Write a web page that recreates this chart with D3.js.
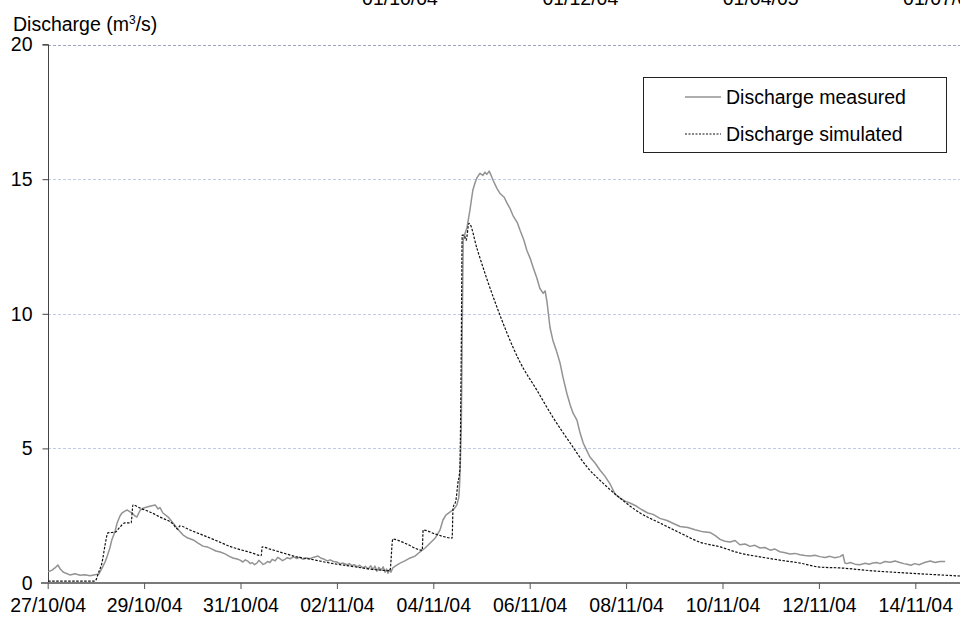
<!DOCTYPE html>
<html>
<head>
<meta charset="utf-8">
<script src="https://cdn.jsdelivr.net/npm/d3@7"></script>
<style>
  html, body { margin: 0; padding: 0; background: #fff; }
  svg { display: block; font-family: "Liberation Sans", Arial, sans-serif; }
</style>
</head>
<body>
<svg id="chart" width="960" height="620"></svg>
<script>
// ---- data (days since 27/10/04 00:00, discharge m3/s) ----
const measuredDays = [0.01,0.09,0.17,0.21,0.26,0.32,0.38,0.46,0.57,0.67,0.77,0.88,0.98,1.06,1.13,1.19,1.23,1.29,1.33,1.40,1.44,1.50,1.54,1.60,1.65,1.71,1.75,1.81,1.85,1.92,1.98,2.06,2.14,2.23,2.29,2.33,2.39,2.50,2.60,2.70,2.81,2.91,3.02,3.12,3.22,3.31,3.41,3.49,3.58,3.68,3.76,3.84,3.93,3.99,4.05,4.10,4.16,4.20,4.24,4.29,4.34,4.38,4.43,4.47,4.51,4.56,4.61,4.66,4.72,4.77,4.82,4.87,4.92,4.97,5.03,5.10,5.17,5.23,5.30,5.37,5.44,5.52,5.61,5.67,5.73,5.80,5.86,5.93,6.00,6.06,6.13,6.21,6.26,6.31,6.36,6.42,6.47,6.54,6.59,6.65,6.70,6.75,6.79,6.83,6.87,6.92,6.96,7.00,7.03,7.06,7.09,7.12,7.16,7.21,7.31,7.41,7.52,7.62,7.72,7.83,7.93,8.04,8.14,8.20,8.26,8.35,8.43,8.49,8.53,8.55,8.58,8.60,8.62,8.66,8.70,8.76,8.82,8.87,8.91,8.97,9.03,9.07,9.11,9.16,9.20,9.24,9.32,9.38,9.47,9.53,9.59,9.65,9.74,9.80,9.88,9.94,10.01,10.07,10.15,10.21,10.28,10.32,10.36,10.42,10.48,10.55,10.63,10.69,10.77,10.84,10.90,10.98,11.04,11.11,11.19,11.25,11.36,11.46,11.56,11.67,11.77,11.87,11.98,12.08,12.21,12.33,12.45,12.56,12.70,12.85,12.97,13.12,13.28,13.43,13.60,13.74,13.85,13.95,14.05,14.16,14.26,14.36,14.47,14.57,14.67,14.78,14.88,14.99,15.09,15.19,15.30,15.40,15.50,15.61,15.71,15.82,15.92,16.02,16.13,16.23,16.33,16.44,16.50,16.54,16.58,16.65,16.75,16.85,16.96,17.04,17.12,17.20,17.27,17.37,17.48,17.58,17.68,17.76,17.83,17.91,17.99,18.08,18.16,18.23,18.31,18.41,18.51,18.62,18.72,18.82,18.93];
const measuredQ = [0.42,0.48,0.59,0.67,0.52,0.41,0.36,0.30,0.34,0.29,0.31,0.27,0.31,0.33,0.56,0.78,0.97,1.30,1.60,1.93,2.23,2.49,2.60,2.67,2.71,2.64,2.60,2.49,2.45,2.71,2.78,2.82,2.86,2.90,2.75,2.80,2.60,2.45,2.23,2.00,1.78,1.67,1.60,1.48,1.37,1.34,1.26,1.19,1.15,1.08,1.00,0.93,0.89,0.85,0.78,0.86,0.80,0.72,0.76,0.68,0.74,0.84,0.76,0.69,0.72,0.80,0.76,0.88,0.82,0.95,0.90,0.83,0.88,0.94,0.90,0.97,0.91,0.96,0.88,0.93,0.90,0.96,1.00,0.92,0.89,0.82,0.86,0.80,0.78,0.72,0.74,0.68,0.72,0.64,0.68,0.60,0.66,0.56,0.62,0.52,0.64,0.50,0.63,0.44,0.58,0.48,0.60,0.40,0.52,0.36,0.49,0.40,0.56,0.63,0.74,0.82,0.93,1.00,1.15,1.30,1.48,1.67,1.97,2.34,2.52,2.64,2.75,2.90,3.19,3.82,5.68,9.39,12.73,12.99,13.21,13.85,14.59,14.89,15.07,15.22,15.14,15.26,15.18,15.30,15.14,14.96,14.66,14.48,14.33,14.11,13.92,13.66,13.40,13.10,12.73,12.36,12.06,11.73,11.32,10.95,10.76,10.85,10.43,9.50,9.02,8.65,8.17,7.65,7.05,6.61,6.31,6.05,5.61,5.20,4.90,4.68,4.45,4.19,3.97,3.67,3.30,3.16,3.04,2.97,2.86,2.72,2.60,2.55,2.40,2.32,2.22,2.10,2.06,1.98,1.90,1.88,1.76,1.62,1.55,1.52,1.58,1.42,1.45,1.36,1.40,1.30,1.32,1.22,1.26,1.16,1.12,1.08,1.10,1.05,1.02,1.00,1.03,0.98,0.95,0.99,0.94,0.98,1.05,0.74,0.72,0.76,0.70,0.68,0.73,0.70,0.74,0.76,0.72,0.80,0.77,0.82,0.76,0.72,0.70,0.66,0.72,0.68,0.74,0.78,0.82,0.76,0.80,0.80];

const simulatedDays = [0.01,0.98,1.06,1.13,1.19,1.25,1.40,1.50,1.60,1.73,1.77,1.92,2.12,2.33,2.60,2.70,2.74,2.95,3.16,3.37,3.57,3.78,3.99,4.20,4.43,4.45,4.61,4.82,5.17,5.44,5.86,6.27,6.69,7.10,7.16,7.41,7.77,7.79,8.04,8.39,8.41,8.47,8.51,8.55,8.58,8.60,8.64,8.68,8.74,8.91,9.11,9.32,9.53,9.80,10.15,10.48,10.84,11.19,11.52,11.87,12.29,12.70,13.12,13.53,13.95,14.36,14.78,15.19,15.61,16.02,16.44,17.12,17.83,18.51,18.93];
const simulatedQ = [0.07,0.07,0.41,0.78,1.41,1.86,1.89,2.08,2.23,2.23,2.90,2.78,2.64,2.45,2.19,2.00,2.12,1.97,1.82,1.67,1.52,1.36,1.24,1.14,1.02,1.34,1.26,1.15,0.97,0.89,0.74,0.63,0.52,0.46,1.63,1.48,1.22,1.97,1.82,1.67,2.78,3.08,3.71,4.19,8.65,12.92,12.92,12.73,13.36,12.40,11.30,10.25,9.28,8.20,7.16,6.16,5.20,4.31,3.71,3.16,2.60,2.23,1.86,1.52,1.34,1.11,0.97,0.85,0.74,0.59,0.56,0.45,0.37,0.30,0.26];

const xTickLabels = ["27/10/04","29/10/04","31/10/04","02/11/04","04/11/04","06/11/04","08/11/04","10/11/04","12/11/04","14/11/04"];
const yTicks = [0, 5, 10, 15, 20];
const topLabels = ["01/10/04", "01/12/04", "01/04/05", "01/07/05"];
const seriesNames = ["Discharge measured", "Discharge simulated"];

// ---- helpers ----
const start = Date.UTC(2004, 9, 27);
const toDate = d => new Date(start + d * 86400000);
const parseTick = s => { const [dd, mm, yy] = s.split("/").map(Number); return new Date(Date.UTC(2000 + yy, mm - 1, dd)); };

const W = 960, H = 620;
const svg = d3.select("#chart");
const FONT = 19.5;

const x = d3.scaleUtc().domain([new Date(start), toDate(20)]).range([47.7, 47.7 + 20 * 48.2]);
const y = d3.scaleLinear().domain([0, 20]).range([583, 44.6]);

svg.append("defs").append("clipPath").attr("id", "clip")
  .append("rect").attr("x", 48).attr("y", 0).attr("width", W - 48).attr("height", 590);

// top (cut-off) secondary axis labels
const topX = d3.scalePoint().domain(topLabels).range([400, 941]);
svg.append("g").selectAll("text").data(topLabels).join("text")
  .attr("x", d => topX(d)).attr("y", 5)
  .attr("text-anchor", "middle").attr("font-size", FONT).attr("fill", "#000")
  .text(d => d);

// gridlines
svg.append("g").selectAll("line").data(yTicks.filter(v => v > 0)).join("line")
  .attr("x1", 48).attr("x2", W)
  .attr("y1", d => Math.round(y(d)) + 0.5).attr("y2", d => Math.round(y(d)) + 0.5)
  .attr("stroke", d => d === 20 ? "#9aa6c4" : "#c2cbe6").attr("stroke-width", 1)
  .attr("stroke-dasharray", "3,2");

// y axis
const yAxis = svg.append("g").attr("transform", "translate(48.5,0)")
  .call(d3.axisLeft(y).tickValues(yTicks).tickSize(6).tickPadding(10).tickFormat(d3.format("d")));
yAxis.select(".domain").attr("stroke", "#444").attr("d", `M-6,${y(20)}H0V${y(0)}`);
yAxis.selectAll(".tick line").attr("stroke", "#444");
yAxis.selectAll(".tick text").attr("font-size", FONT).attr("font-family", "Liberation Sans, Arial, sans-serif").attr("fill", "#000");

// x axis
const xAxis = svg.append("g").attr("transform", "translate(0,583)")
  .call(d3.axisBottom(x).tickValues(xTickLabels.map(parseTick)).tickSize(6).tickPadding(9)
    .tickFormat(d3.utcFormat("%d/%m/%y")));
xAxis.select(".domain").attr("stroke", "#7a7a7a").attr("stroke-width", 2).attr("d", `M41,0H${W}`);
xAxis.selectAll(".tick line").attr("stroke", "#555");
xAxis.selectAll(".tick text").attr("font-size", FONT).attr("font-family", "Liberation Sans, Arial, sans-serif").attr("fill", "#000");

// y label
const yl = svg.append("text").attr("x", 13).attr("y", 31).attr("font-size", FONT).attr("fill", "#000");
yl.append("tspan").text("Discharge (m");
yl.append("tspan").attr("font-size", 12).attr("dy", -7).text("3");
yl.append("tspan").attr("dy", 7).text("/s)");

// series
const measured = measuredDays.map((d, i) => ({ t: toDate(d), v: measuredQ[i] }));
const simulated = simulatedDays.map((d, i) => ({ t: toDate(d), v: simulatedQ[i] }));
const line = d3.line().x(d => x(d.t)).y(d => y(d.v));
const smoothLine = d3.line().x(d => x(d.t)).y(d => y(d.v)).curve(d3.curveMonotoneX);

const plot = svg.append("g").attr("clip-path", "url(#clip)");
plot.append("path").datum(measured).attr("d", line)
  .attr("fill", "none").attr("stroke", "#939393").attr("stroke-width", 1.5).attr("stroke-linejoin", "round");
plot.append("path").datum(simulated).attr("d", smoothLine)
  .attr("fill", "none").attr("stroke", "#111").attr("stroke-width", 1.2).attr("stroke-dasharray", "2.5,1.5");

// legend
const lg = svg.append("g");
lg.append("rect").attr("x", 643.5).attr("y", 77.5).attr("width", 303).attr("height", 75)
  .attr("fill", "#fff").attr("stroke", "#222").attr("stroke-width", 1);
const lgY = [97, 134];
lg.append("line").attr("x1", 685).attr("x2", 721).attr("y1", lgY[0]).attr("y2", lgY[0])
  .attr("stroke", "#939393").attr("stroke-width", 1.4);
lg.append("line").attr("x1", 685).attr("x2", 721).attr("y1", lgY[1]).attr("y2", lgY[1])
  .attr("stroke", "#111").attr("stroke-width", 1.2).attr("stroke-dasharray", "2,1.5");
lg.selectAll("text.l").data(seriesNames).join("text").attr("class", "l")
  .attr("x", 726).attr("y", (d, i) => lgY[i] + 6.5)
  .attr("font-size", FONT).attr("fill", "#000").text(d => d);
</script>
</body>
</html>
